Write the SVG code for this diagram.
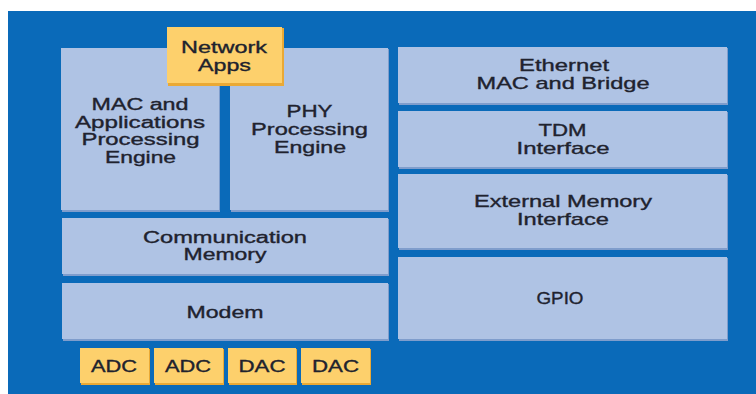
<svg xmlns="http://www.w3.org/2000/svg" width="756" height="394" viewBox="0 0 756 394">
<style>
.bg{fill:#0a6ab9}
.box{fill:#afc3e4}
.boxsh{fill:#7f9dcc}
.y{fill:#fdd06c}
.ysh{fill:#eaa935}
text{font-family:"Liberation Sans",Arial,sans-serif;font-size:17px;fill:#20222e;stroke:#20222e;stroke-width:0.35px;text-anchor:middle}
.t{font-size:16px}
</style>
<rect x="0" y="0" width="756" height="394" fill="#ffffff"/>
<rect class="bg" x="8" y="11" width="748" height="383"/>
<g id="connectors"/>
<g id="mac">
<rect class="boxsh" x="62" y="49" width="158" height="163"/>
<rect class="box" x="61" y="48" width="158" height="162"/>
<text class="t" x="140" y="110" textLength="97" lengthAdjust="spacingAndGlyphs">MAC and</text>
<text class="t" x="140" y="127.5" textLength="130" lengthAdjust="spacingAndGlyphs">Applications</text>
<text class="t" x="140.5" y="145" textLength="118" lengthAdjust="spacingAndGlyphs">Processing</text>
<text class="t" x="140.5" y="162.5" textLength="71" lengthAdjust="spacingAndGlyphs">Engine</text>
</g>
<g id="phy">
<rect class="boxsh" x="231" y="49" width="158" height="163"/>
<rect class="box" x="230" y="48" width="158" height="162"/>
<text x="309.5" y="117" textLength="46" lengthAdjust="spacingAndGlyphs">PHY</text>
<text x="309.5" y="135" textLength="117" lengthAdjust="spacingAndGlyphs">Processing</text>
<text x="310" y="153" textLength="72" lengthAdjust="spacingAndGlyphs">Engine</text>
</g>
<g id="netapps">
<rect class="ysh" x="168" y="28" width="116" height="58"/>
<rect class="y" x="167" y="27" width="115" height="56"/>
<text x="224" y="53" textLength="86" lengthAdjust="spacingAndGlyphs">Network</text>
<text x="224.5" y="71" textLength="53" lengthAdjust="spacingAndGlyphs">Apps</text>
</g>
<g id="commem">
<rect class="boxsh" x="63" y="219" width="326" height="57"/>
<rect class="box" x="62" y="218" width="326" height="56"/>
<text class="t" x="225" y="242.5" textLength="164" lengthAdjust="spacingAndGlyphs">Communication</text>
<text class="t" x="225" y="260" textLength="83" lengthAdjust="spacingAndGlyphs">Memory</text>
</g>
<g id="modem">
<rect class="boxsh" x="63" y="284" width="326" height="57"/>
<rect class="box" x="62" y="283" width="326" height="56"/>
<text x="225" y="318" textLength="77" lengthAdjust="spacingAndGlyphs">Modem</text>
</g>
<g id="adc1">
<rect class="ysh" x="81" y="349" width="69" height="36"/>
<rect class="y" x="80" y="348" width="69" height="35"/>
<text x="114" y="372" textLength="46" lengthAdjust="spacingAndGlyphs">ADC</text>
</g>
<g id="adc2">
<rect class="ysh" x="155" y="349" width="69" height="36"/>
<rect class="y" x="154" y="348" width="69" height="35"/>
<text x="188" y="372" textLength="46" lengthAdjust="spacingAndGlyphs">ADC</text>
</g>
<g id="dac1">
<rect class="ysh" x="229" y="349" width="68" height="36"/>
<rect class="y" x="228" y="348" width="68" height="35"/>
<text x="262" y="372" textLength="47" lengthAdjust="spacingAndGlyphs">DAC</text>
</g>
<g id="dac2">
<rect class="ysh" x="302" y="349" width="69" height="36"/>
<rect class="y" x="301" y="348" width="69" height="35"/>
<text x="335.5" y="372" textLength="47" lengthAdjust="spacingAndGlyphs">DAC</text>
</g>
<g id="ethernet">
<rect class="boxsh" x="399" y="48" width="329" height="57"/>
<rect class="box" x="398" y="47" width="329" height="56"/>
<text x="564" y="71" textLength="90" lengthAdjust="spacingAndGlyphs">Ethernet</text>
<text x="563" y="89" textLength="173" lengthAdjust="spacingAndGlyphs">MAC and Bridge</text>
</g>
<g id="tdm">
<rect class="boxsh" x="399" y="112" width="329" height="57"/>
<rect class="box" x="398" y="111" width="329" height="56"/>
<text x="562.5" y="136" textLength="48" lengthAdjust="spacingAndGlyphs">TDM</text>
<text x="563" y="153.5" textLength="93" lengthAdjust="spacingAndGlyphs">Interface</text>
</g>
<g id="extmem">
<rect class="boxsh" x="399" y="175" width="329" height="75"/>
<rect class="box" x="398" y="174" width="329" height="74"/>
<text x="563" y="207" textLength="178" lengthAdjust="spacingAndGlyphs">External Memory</text>
<text x="563" y="224.5" textLength="92" lengthAdjust="spacingAndGlyphs">Interface</text>
</g>
<g id="gpio">
<rect class="boxsh" x="399" y="258" width="329" height="83"/>
<rect class="box" x="398" y="257" width="329" height="82"/>
<text x="560" y="303.5" textLength="47" lengthAdjust="spacingAndGlyphs">GPIO</text>
</g>
</svg>
